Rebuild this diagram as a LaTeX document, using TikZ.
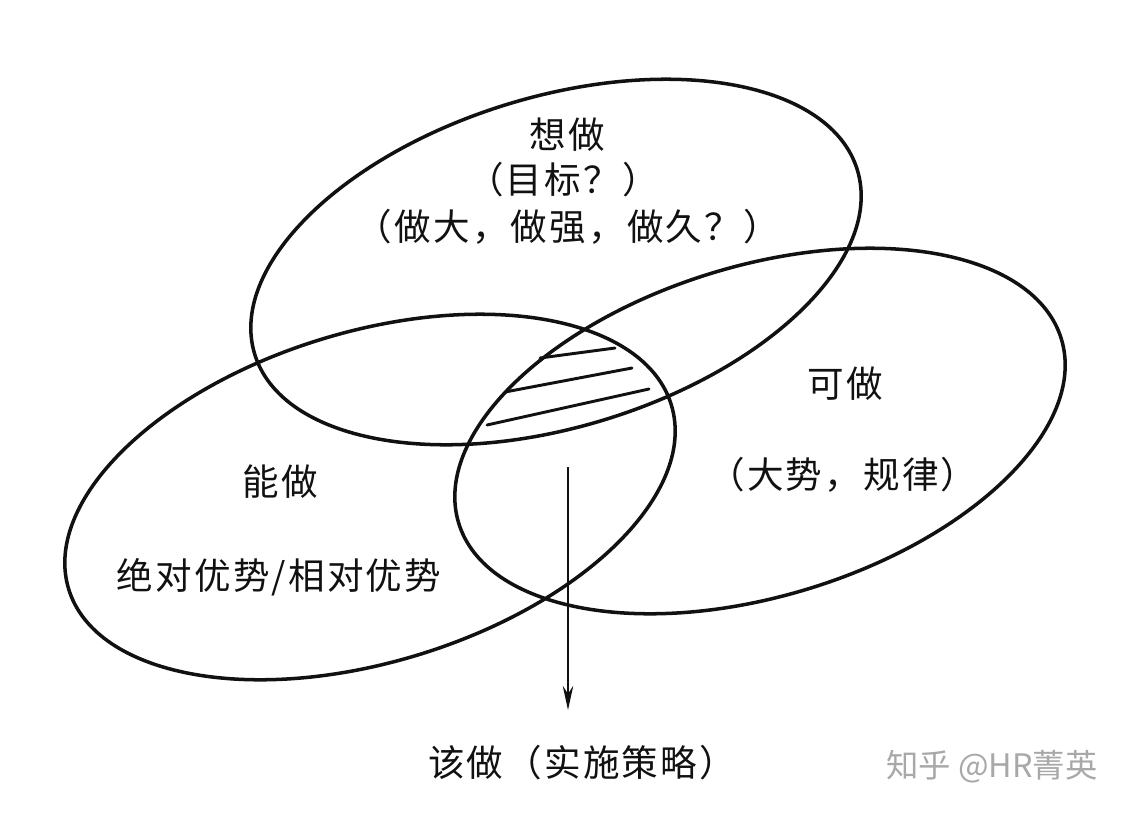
\documentclass[tikz,border=0pt]{standalone}
\usepackage{fontspec}
\newfontfamily\cjk[LetterSpace=6]{Noto Sans CJK SC}
\newfontfamily\wmfont{Noto Sans CJK SC}
\usetikzlibrary{arrows.meta,shapes.geometric}
\definecolor{ink}{HTML}{111111}
\definecolor{wm}{HTML}{A8A8A8}

\begin{document}
\begin{tikzpicture}[x=0.025cm,y=-0.025cm,>={Stealth[length=0.6cm,width=0.26cm]},
  ring/.style={draw=ink,ellipse,line width=2.5pt,minimum width=15.75cm,minimum height=8.25cm,inner sep=0pt,rotate=17},
  lab/.style={font=\cjk\fontsize{26}{30}\selectfont,text=ink,inner sep=0pt},
  hatch/.style={draw=ink,line width=2.1pt,line cap=round}]
  \useasboundingbox (0,0) rectangle (1132,812);
  % the three sets
  \node[ring] (want) at (556,262) {};
  \node[ring] (can) at (370,497) {};
  \node[ring] (may) at (760,431) {};
  % hatched common part
  \draw[hatch] (540,358) -- (615,348);
  \draw[hatch] (505,392) -- (632,368);
  \draw[hatch] (487,425) -- (649,389);
  % labels
  \node[lab] (wanttitle) at (567,135) {想做};
  \node[lab] (wantgoal) at (563,180) {（目标？）};
  \node[lab] (wantways) at (568,227) {（做大，做强，做久？）};
  \node[lab] (maytitle) at (845,384) {可做};
  \node[lab] (maytrend) at (843,475) {（大势，规律）};
  \node[lab] (cantitle) at (280,482) {能做};
  \node[lab] (canadv) at (279,577) {绝对优势/相对优势};
  \node[lab] (should) at (582,763) {该做（实施策略）};
  % arrow down to the strategy
  \coordinate (arrtop) at (568,467);
  \coordinate (arrtip) at (568,710);
  \draw[->,draw=ink,line width=1.9pt] (arrtop) -- (arrtip);
  \node[font=\wmfont\fontsize{23}{27}\selectfont,text=wm,inner sep=0pt] (wmark) at (992,767) {知乎 @HR菁英};
\end{tikzpicture}
\end{document}
